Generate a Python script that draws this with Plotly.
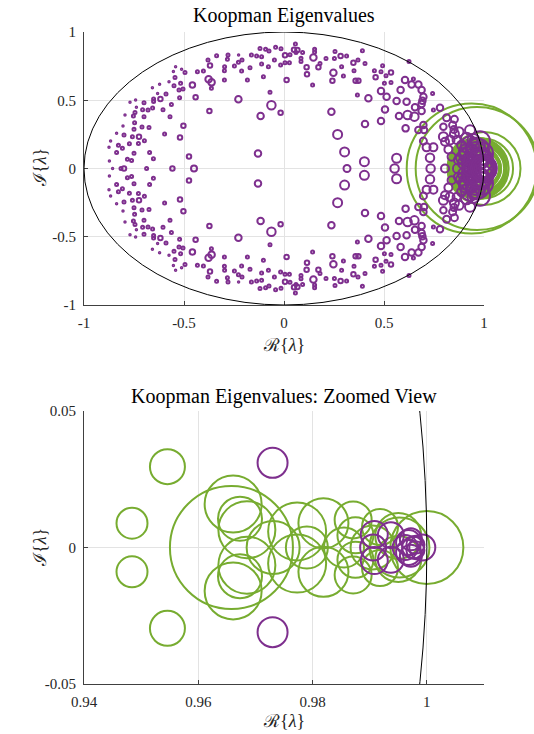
import plotly.graph_objects as go

PURPLE = "#7E2F8E"
GREEN = "#77AC30"
SERIF = "Liberation Serif, DejaVu Serif, serif"

# ---------------- data ----------------
# purple eigenvalues, upper half-plane (conjugates are mirrored below)
pu_x = [-0.337, -0.38, -0.37, -0.542, -0.553, -0.512, -0.495, -0.433, -0.403, -0.545,
        -0.377, -0.362, -0.458, -0.517, -0.575, -0.363, -0.505, -0.525, -0.55, -0.622,
        -0.658, -0.59, -0.632, -0.442, -0.522, -0.618, -0.652, -0.652, -0.7, -0.742,
        -0.77, -0.563, -0.657, -0.68, -0.707, -0.738, -0.745, -0.605, -0.373, -0.795,
        -0.753, -0.7, -0.57, -0.747, -0.805, -0.71, -0.675, -0.503, -0.75, -0.837,
        -0.8, -0.758, -0.725, -0.597, -0.52, -0.698, -0.867, -0.728, -0.773, -0.828,
        -0.875, -0.808, -0.672, -0.837, -0.75, -0.475, -0.653, -0.783, -0.762, -0.873,
        0.057, 0.05, 0.067, 0.06, 0.093, -0.042, -0.015, -0.12, -0.092, -0.075,
        0.005, 0.03, 0.027, 0.005, -0.017, -0.048, -0.112, -0.112, -0.137, -0.163,
        -0.21, -0.227, -0.228, -0.248, -0.28, -0.283, -0.297, -0.298, -0.298, -0.212,
        -0.183, -0.17, -0.103, -0.078, 0.013, 0.085, 0.085, 0.113, 0.115, 0.147,
        0.153, 0.153, 0.18, 0.172, 0.143, 0.21, 0.255, 0.252, 0.283, 0.313,
        0.288, 0.247, 0.242, 0.297, 0.347, 0.37, 0.35, 0.358, 0.372, 0.367,
        -0.07, -0.228, -0.063, -0.017, -0.117, 0.237, 0.268, 0.303, -0.13,
        0.392, 0.405, 0.625, 0.493, 0.452, 0.485, 0.51, 0.535, 0.458, 0.535,
        0.502, 0.605, 0.647, 0.638, 0.672, 0.688, 0.583, 0.743, 0.485, 0.422,
        0.513, 0.563, 0.613, 0.697, 0.692, 0.688, 0.505, 0.655, 0.688, 0.747,
        0.78, 0.575, 0.618, 0.652, 0.485, 0.405, 0.608, 0.672, 0.697, 0.7,
        0.813, 0.852, 0.797, 0.843, 0.852, 0.797, 0.697, 0.713, 0.747, 0.805,
        0.73, 0.402, 0.563,
        0.85, 0.83, 0.863, 0.822, 0.838, 0.872, 0.888, 0.913, 0.947, 0.938,
        0.98, 0.99, 0.96, 0.95, 0.922, 0.905, 0.975, 0.963, 0.93, 0.875, 0.9,
        0.96, 0.93, 0.915, 0.935, 0.97, 0.985, 0.89,
        0.973, 0.9908, 0.9937, 0.9968, 0.9972, 0.998]
pu_y = [0.826, 0.795, 0.755, 0.746, 0.71, 0.727, 0.704, 0.709, 0.714, 0.666,
        0.654, 0.631, 0.612, 0.624, 0.636, 0.587, 0.582, 0.575, 0.607, 0.617,
        0.592, 0.546, 0.549, 0.522, 0.519, 0.509, 0.509, 0.49, 0.482, 0.502,
        0.485, 0.468, 0.444, 0.429, 0.431, 0.448, 0.411, 0.431, 0.421, 0.392,
        0.385, 0.38, 0.38, 0.336, 0.312, 0.304, 0.301, 0.314, 0.287, 0.258,
        0.245, 0.233, 0.233, 0.253, 0.228, 0.204, 0.201, 0.184, 0.182, 0.17,
        0.155, 0.148, 0.118, 0.118, 0.111, 0.087, 0.072, 0.067, 0.058, 0.055,
        0.912, 0.87, 0.868, 0.849, 0.849, 0.888, 0.878, 0.88, 0.873, 0.861,
        0.829, 0.834, 0.775, 0.775, 0.758, 0.795, 0.819, 0.765, 0.824, 0.831,
        0.795, 0.831, 0.778, 0.751, 0.831, 0.8, 0.746, 0.717, 0.648, 0.714,
        0.648, 0.739, 0.672, 0.746, 0.648, 0.807, 0.783, 0.741, 0.69, 0.814,
        0.873, 0.853, 0.77, 0.741, 0.612, 0.805, 0.858, 0.805, 0.824, 0.824,
        0.746, 0.702, 0.643, 0.677, 0.775, 0.795, 0.717, 0.643, 0.643, 0.538,
        0.558, 0.507, 0.463, 0.409, 0.385, 0.416, 0.25, 0.121, 0.11,
        0.863, 0.77, 0.783, 0.753, 0.717, 0.709, 0.68, 0.704, 0.668, 0.63,
        0.624, 0.648, 0.655, 0.616, 0.616, 0.575, 0.575, 0.55, 0.568, 0.514,
        0.526, 0.494, 0.489, 0.526, 0.497, 0.472, 0.433, 0.448, 0.421, 0.428,
        0.445, 0.385, 0.392, 0.38, 0.348, 0.326, 0.294, 0.282, 0.318, 0.282,
        0.372, 0.36, 0.306, 0.318, 0.253, 0.233, 0.201, 0.155, 0.155, 0.196,
        0.079, 0.05, 0.075,
        0.286, 0.209, 0.209, 0.14, 0.086, 0.062, 0.172, 0.222, 0.209, 0.134,
        0.20, 0.11, 0.16, 0.085, 0.062, 0.13, 0.075, 0.055, 0.28, 0.27, 0.04,
        0.12, 0.17, 0.10, 0.03, 0.14, 0.06, 0.08,
        0.031, 0.0048, 0.0045, 0.0018, 0.003, 0.001]
pu_s = [3, 3, 4.5, 1.5, 1.5, 1.5, 3, 3, 3, 3,
        6.5, 6.5, 5.5, 3, 1.5, 3, 3, 3, 3, 1.5,
        1.5, 3, 1.5, 4.5, 3, 4.5, 3, 3, 3, 1.5,
        1.5, 3, 3, 3, 3, 1.5, 3, 3, 4.5, 1.5,
        3, 3, 3, 3, 1.5, 3, 3, 4.5, 3, 1.5,
        3, 3, 4.5, 3, 4.5, 3, 1.5, 3, 3, 3,
        1.5, 3, 3, 3, 3, 4.5, 3, 3, 3, 1.5,
        3, 4.5, 4.5, 3, 3, 3, 3, 3, 3, 3,
        4.5, 3, 3, 3, 3, 3, 3, 3, 3, 3,
        3, 1.5, 3, 3, 3, 3, 3, 3, 3, 3,
        3, 3, 3, 3, 4.5, 3, 3, 4.5, 4.5, 6.5,
        3, 3, 3, 4.5, 3, 3, 3, 3, 4.5, 3,
        3, 6.5, 4.5, 3, 4.5, 3, 3, 4.5, 4.5, 3,
        3, 6.5, 8.5, 4.5, 6.5, 6.5, 9, 9, 6.5,
        3, 3, 3, 3, 3, 3, 3, 4.5, 4.5, 3,
        3, 6.5, 3, 6.5, 6.5, 6.5, 6.5, 3, 6.5, 6.5,
        6.5, 6.5, 6.5, 6.5, 6.5, 6.5, 6.5, 6.5, 6.5, 3,
        6.5, 6.5, 8.5, 8.5, 6.5, 6.5, 6.5, 6.5, 6.5, 6.5,
        7, 7, 6.5, 7, 9, 9, 7, 8, 8, 8,
        8.5, 9, 9,
        7, 9, 8, 8, 8, 9, 9, 11, 12, 12,
        20, 22, 18, 18, 14, 12, 22, 20, 10, 9, 12,
        20, 18, 16, 18, 22, 24, 12,
        30, 27, 26, 25, 22, 18]

# purple eigenvalues on the real axis
pr_x = [-0.857, -0.815, -0.80, -0.687, -0.558, -0.45, 0.315, 0.553, 0.733,
        0.805, 0.87, 0.93, 0.9906, 0.9962, 0.9976, 0.9992]
pr_s = [1.5, 3, 4.5, 3, 4.5, 6, 7, 8.5, 8.5,
        8, 10, 14, 26, 25, 22, 26]

# green eigenvalues: complex pairs (upper half) and real ones
gu_x = [0.9484, 0.9546, 0.9661, 0.9673, 0.9685, 0.9773, 0.9819, 0.9871, 0.9875, 0.9918, 0.9950]
gu_y = [0.0089, 0.0296, 0.0159, 0.0105, 0.0065, 0.0059, 0.0089, 0.0101, 0.0045, 0.0075, 0.0042]
gu_s = [31, 35, 57, 44, 57, 58, 50, 37, 36, 36, 46]
gr_x = [0.9385, 0.9658, 0.9731, 0.9790, 0.9855, 0.9905, 0.9952, 1.0000]
gr_s = [130, 123, 53, 42, 40, 44, 60, 73]

# full sets (conjugate pairs)
p_x = pu_x + pu_x + pr_x
p_y = pu_y + [-v for v in pu_y] + [0.0] * len(pr_x)
p_s = pu_s + pu_s + pr_s
g_x = gu_x + gu_x + gr_x
g_y = gu_y + [-v for v in gu_y] + [0.0] * len(gr_x)
g_s = gu_s + gu_s + gr_s

# ---------------- figure ----------------
W, H = 534, 734
fig = go.Figure()

for xa, ya in (("x", "y"), ("x2", "y2")):
    fig.add_trace(go.Scatter(
        x=g_x, y=g_y, mode="markers", xaxis=xa, yaxis=ya, cliponaxis=False,
        marker=dict(symbol="circle-open", size=g_s, color=GREEN, opacity=1,
                    line=dict(color=GREEN, width=2)),
        showlegend=False, hoverinfo="skip"))
    fig.add_trace(go.Scatter(
        x=p_x, y=p_y, mode="markers", xaxis=xa, yaxis=ya, cliponaxis=False,
        marker=dict(symbol="circle-open", size=p_s, color=PURPLE, opacity=1,
                    line=dict(color=PURPLE, width=2)),
        showlegend=False, hoverinfo="skip"))

def px_x(p):
    return p / W

def px_y(p):
    return 1 - p / H

axis_common = dict(
    showline=True, linecolor="#404040", linewidth=1, mirror=False,
    ticks="inside", ticklen=4, tickcolor="#404040", tickwidth=1,
    showgrid=True, gridcolor="#e3e3e3", gridwidth=1, zeroline=False,
    tickfont=dict(family=SERIF, size=15, color="#262626"),
    ticklabelstandoff=4, automargin=False,
)

x_dom = [px_x(84), px_x(484)]
top_ticks = [-1, -0.5, 0, 0.5, 1]
top_text = ["-1", "-0.5", "0", "0.5", "1"]
zx_ticks = [0.94, 0.96, 0.98, 1.0]
zx_text = ["0.94", "0.96", "0.98", "1"]
zy_ticks = [-0.05, 0, 0.05]
zy_text = ["-0.05", "0", "0.05"]

fig.update_layout(
    width=W, height=H, margin=dict(l=0, r=0, t=0, b=0, autoexpand=False),
    paper_bgcolor="white", plot_bgcolor="white",
    xaxis=dict(domain=x_dom, range=[-1, 1], anchor="y",
               tickvals=top_ticks, ticktext=top_text, **axis_common),
    yaxis=dict(domain=[px_y(305), px_y(32)], range=[-1, 1], anchor="x",
               tickvals=top_ticks, ticktext=top_text, **axis_common),
    xaxis2=dict(domain=x_dom, range=[0.94, 1.01], anchor="y2",
                tickvals=zx_ticks, ticktext=zx_text, **axis_common),
    yaxis2=dict(domain=[px_y(684), px_y(411)], range=[-0.05, 0.05], anchor="x2",
                tickvals=zy_ticks, ticktext=zy_text, **axis_common),
    shapes=[
        dict(type="circle", xref="x", yref="y", x0=-1, y0=-1, x1=1, y1=1,
             line=dict(color="black", width=1), layer="above"),
        dict(type="circle", xref="x2", yref="y2", x0=-1, y0=-1, x1=1, y1=1,
             line=dict(color="black", width=1), layer="above"),
    ],
)

title_font = dict(family=SERIF, size=20, color="black")
label_font = dict(family=SERIF, size=18, color="#262626")
re_label = "ℛ{<i>λ</i>}"
im_label = "ℐ{<i>λ</i>}"
ann = [
    dict(text="Koopman Eigenvalues", x=px_x(284), y=px_y(16), font=title_font),
    dict(text=re_label, x=px_x(284), y=px_y(345), font=label_font),
    dict(text=im_label, x=px_x(40), y=px_y(168), font=label_font, textangle=-90),
    dict(text="Koopman Eigenvalues: Zoomed View", x=px_x(284), y=px_y(396), font=title_font),
    dict(text=re_label, x=px_x(284), y=px_y(721), font=label_font),
    dict(text=im_label, x=px_x(40), y=px_y(548), font=label_font, textangle=-90),
]
for a in ann:
    a.update(xref="paper", yref="paper", showarrow=False, xanchor="center", yanchor="middle")
fig.update_layout(annotations=ann)

fig.write_html("out.html")
